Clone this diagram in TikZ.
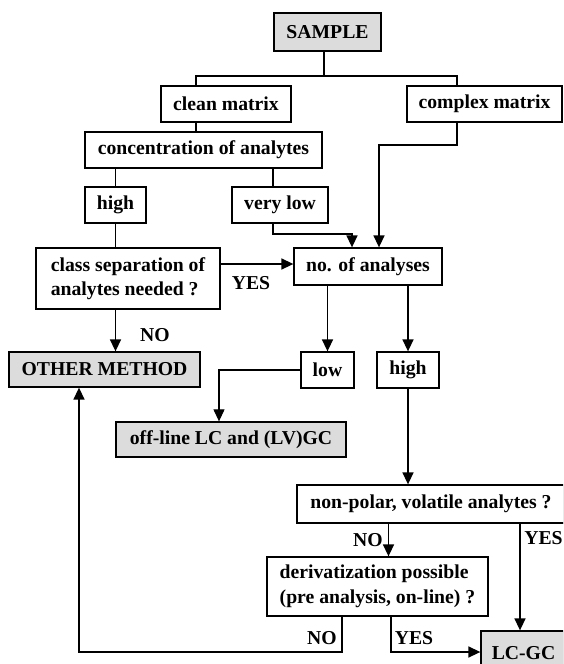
\documentclass[tikz,border=0pt]{standalone}
\usepackage{fontspec}
\setmainfont{Liberation Serif}
\usetikzlibrary{arrows.meta,shadows}
\definecolor{boxgray}{HTML}{DCDCDC}
\begin{document}
\begin{tikzpicture}[x=1pt,y=-1pt,
  box/.style={draw=black, line width=1.3pt, fill=white, inner sep=0pt,
    font=\fontsize{19.7}{24.5}\selectfont\bfseries,
    drop shadow={shadow xshift=1.3pt, shadow yshift=-1.3pt, fill=black!75, opacity=1}},
  greybox/.style={box, fill=boxgray},
  wh/.style 2 args={minimum width=#1pt, minimum height=#2pt},
  conn/.style={line width=1.5pt},
  thin/.style={line width=1.1pt},
  arr/.style={conn, -{Triangle[length=12pt,width=11pt]}},
  thinarr/.style={thin, -{Triangle[length=12pt,width=11pt]}},
  lbl/.style={font=\fontsize{19.7}{24}\selectfont\bfseries, inner sep=0pt}]
\clip (0,0) rectangle (563,664);
\fill[white] (0,0) rectangle (563,664);
% boxes
\node[greybox, wh={107}{38}] (sample) at (327.5,32) {SAMPLE};
\node[box, wh={130}{36}] (clean) at (226,104) {clean matrix};
\node[box, wh={155}{36}] (complex) at (484.5,104) {complex matrix};
\node[box, wh={237}{36}] (conc) at (203.5,150) {concentration of analytes};
\node[box, wh={61}{36}] (high) at (115.5,205) {high};
\node[box, wh={96}{36}] (verylow) at (280,205) {very low};
\node[box, wh={184}{61}, align=left] (classsep) at (128,278.5) {class separation of\\analytes needed ?};
\node[box, wh={148}{37}] (noan) at (368,266.5) {no. of analyses};
\node[greybox, wh={191}{35}] (other) at (104.5,369.5) {OTHER METHOD};
\node[box, wh={53}{36}] (low) at (327.5,370) {low};
\node[box, wh={62}{36}] (high2) at (408,370) {high};
\node[greybox, wh={230}{35}] (offline) at (231,439.5) {off-line LC and (LV)GC};
\node[box, wh={268}{38}] (nonpolar) at (431,504) {non-polar, volatile analytes ?};
\node[box, wh={221}{59}, align=left] (deriv) at (377.5,586.5) {derivatization possible\\(pre analysis, on-line) ?};
\node[greybox, wh={85}{44}] (lcgc) at (523.5,653) {LC-GC};
% tree from sample
\coordinate (bus) at (324,76);
\coordinate (busL) at (196,76);
\coordinate (busR) at (457,76);
\draw[conn] (sample.south -| bus) -- (bus);
\draw[conn] (clean.north -| busL) -- (busL) -- (busR) -- (complex.north -| busR);
\draw[conn] (clean.south -| busL) -- (conc.north -| busL);
\draw[thin] (conc.south -| high) -- (high.north);
\coordinate (vl) at (273,0);
\draw[thin] (conc.south -| vl) -- (verylow.north -| vl);
\coordinate (vlb) at (273,234);
\coordinate (vlr) at (352,234);
\draw[arr] (verylow.south -| vlb) -- (vlb) -- (vlr) -- (noan.north -| vlr);
\coordinate (cxb) at (457,145);
\coordinate (cxl) at (379,145);
\draw[arr] (complex.south -| cxb) -- (cxb) -- (cxl) -- (noan.north -| cxl);
\draw[thin] (high.south) -- (classsep.north -| high.south);
\coordinate (yesy) at (0,264);
\draw[arr] (classsep.east |- yesy) -- (noan.west |- yesy);
\node[lbl] (yes1) at (251,283) {YES};
\draw[arr] (classsep.south -| high.south) -- (other.north -| high.south);
\node[lbl] (no1) at (155,335) {NO};
\draw[arr] (noan.south -| low) -- (low.north);
\draw[arr] (noan.south -| high2) -- (high2.north);
\coordinate (offx) at (219,0);
\draw[thinarr] (low.west) -| (offline.north -| offx);
\draw[arr] (high2.south) -- (nonpolar.north -| high2.south);
\coordinate (npno) at (388.5,0);
\draw[arr] (nonpolar.south -| npno) -- (deriv.north -| npno);
\node[lbl] (no2) at (368,540) {NO};
\coordinate (npyes) at (520,0);
\draw[arr] (nonpolar.south -| npyes) -- (lcgc.north -| npyes);
\node[lbl] (yes2) at (543.5,538) {YES};
\coordinate (dno) at (342,652);
\coordinate (oth) at (79,652);
\draw[arr] (deriv.south -| dno) -- (dno) -- (oth) -- (other.south -| oth);
\node[lbl] (no3) at (322,638) {NO};
\coordinate (dyes) at (391,652);
\draw[arr] (deriv.south -| dyes) -- (dyes) -- (lcgc.west |- dyes);
\node[lbl] (yes3) at (414,638) {YES};
\end{tikzpicture}
\end{document}
